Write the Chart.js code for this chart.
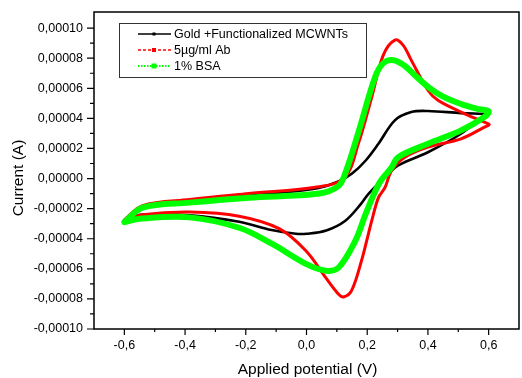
<!DOCTYPE html>
<html>
<head>
<meta charset="utf-8">
<script src="https://cdn.jsdelivr.net/npm/chart.js@4.4.0/dist/chart.umd.min.js"></script>
<style>
  html, body { margin: 0; padding: 0; background: #ffffff; }
  #wrap { width: 522px; height: 378px; position: relative; }
</style>
</head>
<body>
<div id="wrap"><canvas id="cv"></canvas></div>
<script>
// Voltammogrammes (potentiel en V, courant en A)
const SERIES_NAMES = ['Gold +Functionalized MCWNTs', '5µg/ml Ab', '1% BSA'];

const GOLD_E = [-0.6, -0.54, -0.48, -0.385, -0.19, -0.06, 0.04, 0.105, 0.15, 0.195, 0.237, 0.291, 0.345, 0.4, 0.509, 0.6,
                0.586, 0.509, 0.4, 0.302, 0.259, 0.205, 0.18, 0.128, 0.065, 0.0, -0.035, -0.115, -0.222, -0.385, -0.54, -0.6];
const GOLD_I = [-2.75e-5, -1.85e-5, -1.6e-5, -1.45e-5, -1.07e-5, -0.9e-5, -0.63e-5, -0.2e-5, 0.33e-5, 1.2e-5, 2.31e-5, 3.87e-5, 4.42e-5, 4.49e-5, 4.35e-5, 4.28e-5,
                4.2e-5, 2.98e-5, 1.75e-5, 0.87e-5, 0.09e-5, -1.0e-5, -1.67e-5, -2.8e-5, -3.45e-5, -3.67e-5, -3.67e-5, -3.42e-5, -2.87e-5, -2.45e-5, -2.4e-5, -2.75e-5];

const AB_E = [-0.6, -0.54, -0.385, -0.19, 0.04, 0.127, 0.171, 0.215, 0.253, 0.291, 0.318, 0.345, 0.4, 0.433, 0.509, 0.586, 0.602,
              0.586, 0.509, 0.4, 0.324, 0.28, 0.259, 0.237, 0.215, 0.204, 0.181, 0.148, 0.122, 0.105, 0.064, -0.002, -0.09, -0.222, -0.385, -0.54, -0.6];
const AB_I = [-2.75e-5, -1.8e-5, -1.4e-5, -1.0e-5, -0.55e-5, 0.09e-5, 2.33e-5, 5.42e-5, 8.2e-5, 9.2e-5, 8.87e-5, 7.87e-5, 5.87e-5, 5.2e-5, 4.42e-5, 3.75e-5, 3.6e-5,
              3.42e-5, 2.64e-5, 2.09e-5, 1.42e-5, 0.53e-5, -0.58e-5, -1.27e-5, -2.8e-5, -3.67e-5, -5.47e-5, -7.47e-5, -7.87e-5, -7.67e-5, -6.6e-5, -4.8e-5, -3.33e-5, -2.5e-5, -2.23e-5, -2.4e-5, -2.75e-5];

const BSA_E = [-0.6, -0.54, -0.385, -0.19, 0.04, 0.105, 0.127, 0.171, 0.226, 0.253, 0.286, 0.32, 0.35, 0.4, 0.45, 0.51, 0.56, 0.6,
               0.586, 0.509, 0.4, 0.302, 0.28, 0.24, 0.196, 0.161, 0.105, 0.064, -0.002, -0.114, -0.222, -0.385, -0.549, -0.6];
const BSA_I = [-2.9e-5, -1.93e-5, -1.6e-5, -1.27e-5, -1.0e-5, -0.5e-5, 0.31e-5, 3.07e-5, 6.75e-5, 7.67e-5, 7.87e-5, 7.55e-5, 7.0e-5, 6.1e-5, 5.45e-5, 4.95e-5, 4.65e-5, 4.47e-5,
               4.09e-5, 3.2e-5, 2.31e-5, 1.42e-5, 0.73e-5, -0.3e-5, -2.3e-5, -4.13e-5, -5.93e-5, -6.13e-5, -5.67e-5, -4.33e-5, -3.27e-5, -2.58e-5, -2.67e-5, -2.9e-5];

const X_TICKS = [-0.6, -0.4, -0.2, 0.0, 0.2, 0.4, 0.6];
const Y_TICKS = [-0.0001, -0.00008, -0.00006, -0.00004, -0.00002, 0, 0.00002, 0.00004, 0.00006, 0.00008, 0.0001];

const POLICE = '"Liberation Sans", Arial, sans-serif';

function points(xs, ys) {
    return xs.map((x, i) => ({ x: x, y: ys[i] }));
}

function fmt(v, dec) {
    if (Math.abs(v) < 1e-12) v = 0;
    return v.toFixed(dec).replace('.', ',');
}

// Cadre, graduations, titres d'axes et légende à la manière d'Origin
const cadrePlugin = {
    id: 'cadre',
    afterDraw(chart) {
        const ctx = chart.ctx;
        const a = chart.chartArea;
        const sx = chart.scales.x, sy = chart.scales.y;
        ctx.save();
        ctx.strokeStyle = '#000';
        ctx.lineWidth = 1.5;
        ctx.strokeRect(a.left, a.top, a.right - a.left, a.bottom - a.top);

        ctx.lineWidth = 1.2;
        ctx.beginPath();
        X_TICKS.forEach((v, i) => {
            const px = sx.getPixelForValue(v);
            ctx.moveTo(px, a.bottom); ctx.lineTo(px, a.bottom + 6);
            if (i < X_TICKS.length - 1) {
                const pm = sx.getPixelForValue((v + X_TICKS[i + 1]) / 2);
                ctx.moveTo(pm, a.bottom); ctx.lineTo(pm, a.bottom + 3);
            }
        });
        Y_TICKS.forEach((v, i) => {
            const py = sy.getPixelForValue(v);
            ctx.moveTo(a.left, py); ctx.lineTo(a.left - 7, py);
            if (i < Y_TICKS.length - 1) {
                const pm = sy.getPixelForValue((v + Y_TICKS[i + 1]) / 2);
                ctx.moveTo(a.left, pm); ctx.lineTo(a.left - 4, pm);
            }
        });
        ctx.stroke();

        // Titres des axes
        ctx.fillStyle = '#000';
        ctx.font = '15.5px ' + POLICE;
        ctx.textAlign = 'center';
        ctx.textBaseline = 'alphabetic';
        ctx.fillText('Applied potential (V)', (a.left + a.right) / 2 + 1, 374);
        ctx.save();
        ctx.translate(23, 178);
        ctx.rotate(-Math.PI / 2);
        ctx.fillText('Current (A)', 0, 0);
        ctx.restore();

        // Légende
        ctx.lineWidth = 1;
        ctx.strokeStyle = '#333';
        ctx.strokeRect(119.5, 23.5, 247, 54);
        const styles = [
            { c: '#000000', dash: [], w: 1.5, m: 3 },
            { c: '#ff0000', dash: [3, 2], w: 1.5, m: 4 },
            { c: '#00ff00', dash: [1.5, 1.5], w: 2, m: 5 }
        ];
        ctx.font = '12.5px ' + POLICE;
        ctx.textAlign = 'left';
        ctx.textBaseline = 'middle';
        SERIES_NAMES.forEach((nom, i) => {
            const y = 34 + i * 16;
            const s = styles[i];
            ctx.strokeStyle = s.c;
            ctx.lineWidth = s.w;
            ctx.setLineDash(s.dash);
            ctx.beginPath();
            ctx.moveTo(138, y); ctx.lineTo(171, y);
            ctx.stroke();
            ctx.setLineDash([]);
            ctx.fillStyle = s.c;
            ctx.fillRect(154 - s.m / 2, y - s.m / 2, s.m, s.m);
            ctx.fillStyle = '#000';
            ctx.fillText(nom, 174, y + 1);
        });
        ctx.restore();
    }
};

const ctx = document.getElementById('cv').getContext('2d');
new Chart(ctx, {
    type: 'scatter',
    data: {
        datasets: [
            {
                label: SERIES_NAMES[0],
                data: points(GOLD_E, GOLD_I),
                borderColor: '#000000',
                borderWidth: 2.6,
                order: 2
            },
            {
                label: SERIES_NAMES[1],
                data: points(AB_E, AB_I),
                borderColor: '#ff0000',
                borderWidth: 3,
                order: 1
            },
            {
                label: SERIES_NAMES[2],
                data: points(BSA_E, BSA_I),
                borderColor: '#00ff00',
                borderWidth: 6,
                order: 0
            }
        ]
    },
    options: {
        responsive: true,
        maintainAspectRatio: false,
        animation: false,
        showLine: true,
        elements: {
            point: { radius: 0, hoverRadius: 0 },
            line: { tension: 0.35, fill: false, borderCapStyle: 'round', borderJoinStyle: 'round' }
        },
        layout: { padding: { top: 12, right: 3, left: 0, bottom: 0 } },
        plugins: {
            legend: { display: false },
            tooltip: { enabled: false }
        },
        scales: {
            x: {
                type: 'linear',
                min: -0.7,
                max: 0.7,
                afterBuildTicks: (s) => { s.ticks = X_TICKS.map(v => ({ value: v })); },
                afterFit: (s) => { s.height = 49; s.paddingLeft = 0; s.paddingRight = 0; },
                grid: { display: false, drawTicks: false },
                border: { display: false },
                ticks: {
                    padding: 9,
                    color: '#000',
                    font: { family: POLICE, size: 12.5 },
                    maxRotation: 0,
                    callback: (v) => fmt(v, 1)
                }
            },
            y: {
                type: 'linear',
                min: -0.0001,
                max: 0.0001107,
                afterBuildTicks: (s) => { s.ticks = Y_TICKS.map(v => ({ value: v })); },
                afterFit: (s) => { s.width = 94; s.paddingTop = 0; s.paddingBottom = 0; },
                grid: { display: false, drawTicks: false },
                border: { display: false },
                ticks: {
                    padding: 11,
                    color: '#000',
                    font: { family: POLICE, size: 12.5 },
                    callback: (v) => fmt(v, 5)
                }
            }
        }
    },
    plugins: [cadrePlugin]
});
</script>
</body>
</html>
